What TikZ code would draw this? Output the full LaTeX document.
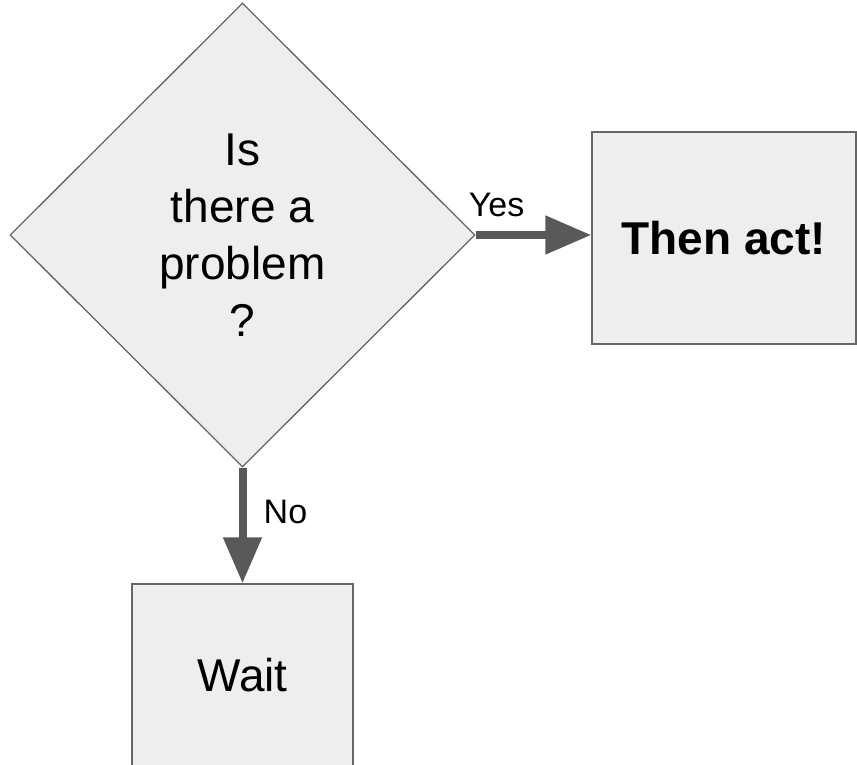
\documentclass[tikz,border=0pt]{standalone}
\usepackage{fontspec}
\setmainfont{Liberation Sans}
\usetikzlibrary{shapes.geometric,arrows.meta}
\definecolor{boxfill}{HTML}{EEEEEE}
\definecolor{boxline}{HTML}{666666}
\definecolor{arrowc}{HTML}{595959}
\begin{document}
\begin{tikzpicture}[x=1pt,y=-1pt,
  shapebox/.style={draw=boxline,fill=boxfill,line width=1.3pt,inner sep=0pt},
  bigtext/.style={font=\fontsize{46}{57}\selectfont},
  flow/.style={draw=arrowc,line width=8pt,-{Triangle[length=46pt,width=37pt]}},
  lbl/.style={font=\fontsize{34}{40}\selectfont,inner sep=0pt}]
\useasboundingbox (0,0) rectangle (857,765);
\clip (0,0) rectangle (857,765);
\node[shapebox,diamond,minimum width=465pt,minimum height=464pt,bigtext,align=center] (q) at (242.5,235) {Is\\there a\\problem\\?};
\node[shapebox,minimum width=264pt,minimum height=212pt,font=\fontsize{46}{57}\selectfont\bfseries] (t) at (724,238) {Then act!};
\node[shapebox,minimum width=221pt,minimum height=182pt,bigtext] (w) at (242.5,675) {Wait};
\draw[flow] (q.east) -- (q.east -| t.west);
\node[lbl,anchor=base west] (yes) at ([xshift=-7pt,yshift=19pt]q.east) {Yes};
\draw[flow] (q.south) -- (w.north);
\node[lbl,anchor=base west] (no) at ([xshift=21pt,yshift=-56pt]q.south) {No};
\end{tikzpicture}
\end{document}
